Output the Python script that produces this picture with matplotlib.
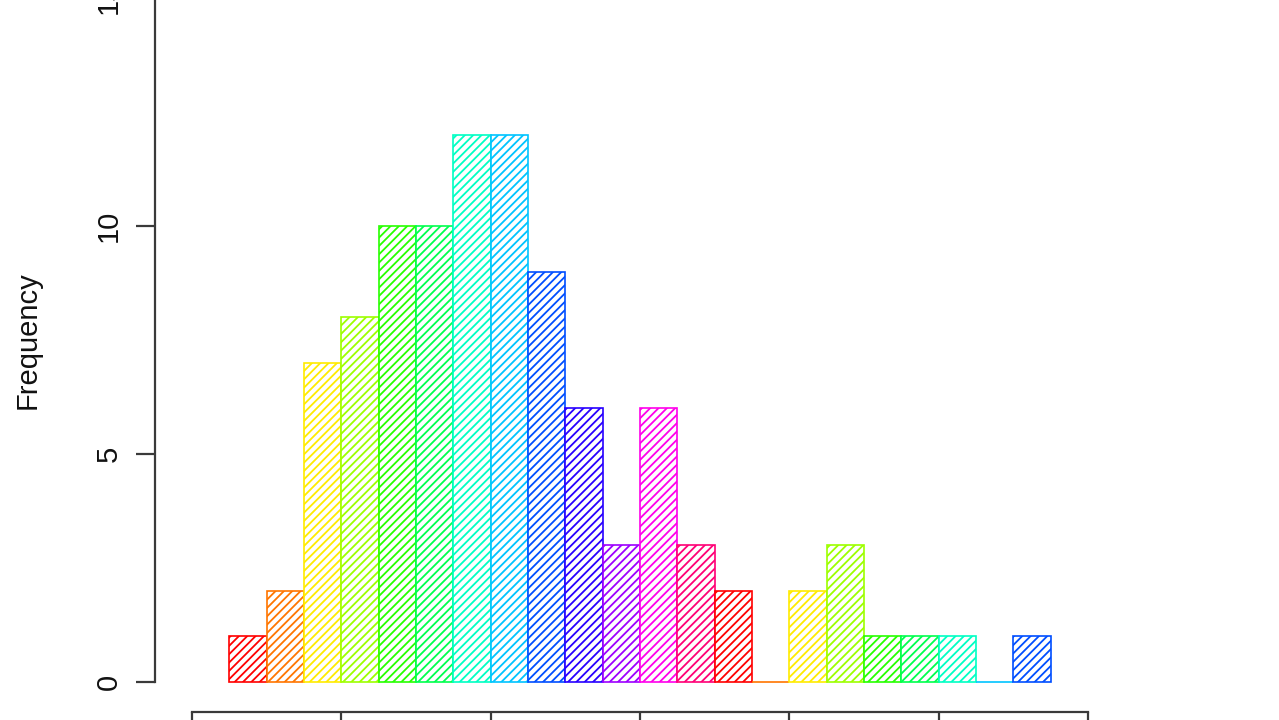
import matplotlib
matplotlib.use("Agg")
import matplotlib.pyplot as plt
import matplotlib.colors as mcolors
import numpy as np

# Histogram data (counts per bin)
bin_edges = [1, 2, 3, 4, 5, 6, 7, 8, 9, 10, 11, 12, 13, 14, 15, 16, 17, 18, 19, 20, 21, 22, 23]
counts = [1, 2, 7, 8, 10, 10, 12, 12, 9, 6, 3, 6, 3, 2, 0, 2, 3, 1, 1, 1, 0, 1]
y_ticks = [0, 5, 10, 15]
x_ticks = [0, 4, 8, 12, 16, 20, 24]
y_label = "Frequency"

# R's rainbow(13), recycled over the bars
n_col = 13
palette = [mcolors.hsv_to_rgb((i / n_col, 1.0, 1.0)) for i in range(n_col)]
bar_colors = [palette[i % n_col] for i in range(len(counts))]

plt.rcParams['font.family'] = ['Liberation Sans', 'DejaVu Sans']
plt.rcParams['hatch.linewidth'] = 1.3

W, H = 1279, 720
fig = plt.figure(figsize=(W / 100, H / 100), dpi=100)

# axes placed in pixel terms
left_px, right_px = 155, 1088
bottom_px, top_px = 712, -2
ax = fig.add_axes([left_px / W, (H - bottom_px) / H,
                   (right_px - left_px) / W, (bottom_px - top_px) / H])

x_unit = (1088 - 192) / 24.0
y_unit = (682 - (-2)) / 15.0
ax.set_xlim(-(192 - left_px) / x_unit, 24)
ax.set_ylim(-(bottom_px - 682) / y_unit, 15)

edges = np.array(bin_edges, dtype=float)
widths = np.diff(edges)
for x0, w, c, col in zip(edges[:-1], widths, counts, bar_colors):
    ax.bar(x0, c, width=w, align='edge', facecolor='white',
           edgecolor=col, hatch='////', linewidth=1.2, clip_on=False)

for s in ['top', 'right']:
    ax.spines[s].set_visible(False)
axis_col = '#3a3a3a'
ax.spines['left'].set_bounds(0, 15)
ax.spines['bottom'].set_bounds(0, 24)
for s in ['left', 'bottom']:
    ax.spines[s].set_color(axis_col)
    ax.spines[s].set_linewidth(1.6)

ax.set_yticks(y_ticks)
ax.set_yticklabels([str(v) for v in y_ticks], rotation=90, va='center', fontsize=21)
ax.set_xticks(x_ticks)
ax.set_xticklabels([str(v) for v in x_ticks], fontsize=21)
ax.tick_params(axis='both', direction='out', length=14, width=1.6, color=axis_col,
               labelcolor='#111111', pad=9)

fig.text(28 / W, 1 - 340 / H, y_label, rotation=90, ha='center', va='center',
         fontsize=21, color='#111111')

fig.savefig("out.png", dpi=100, facecolor='white')
